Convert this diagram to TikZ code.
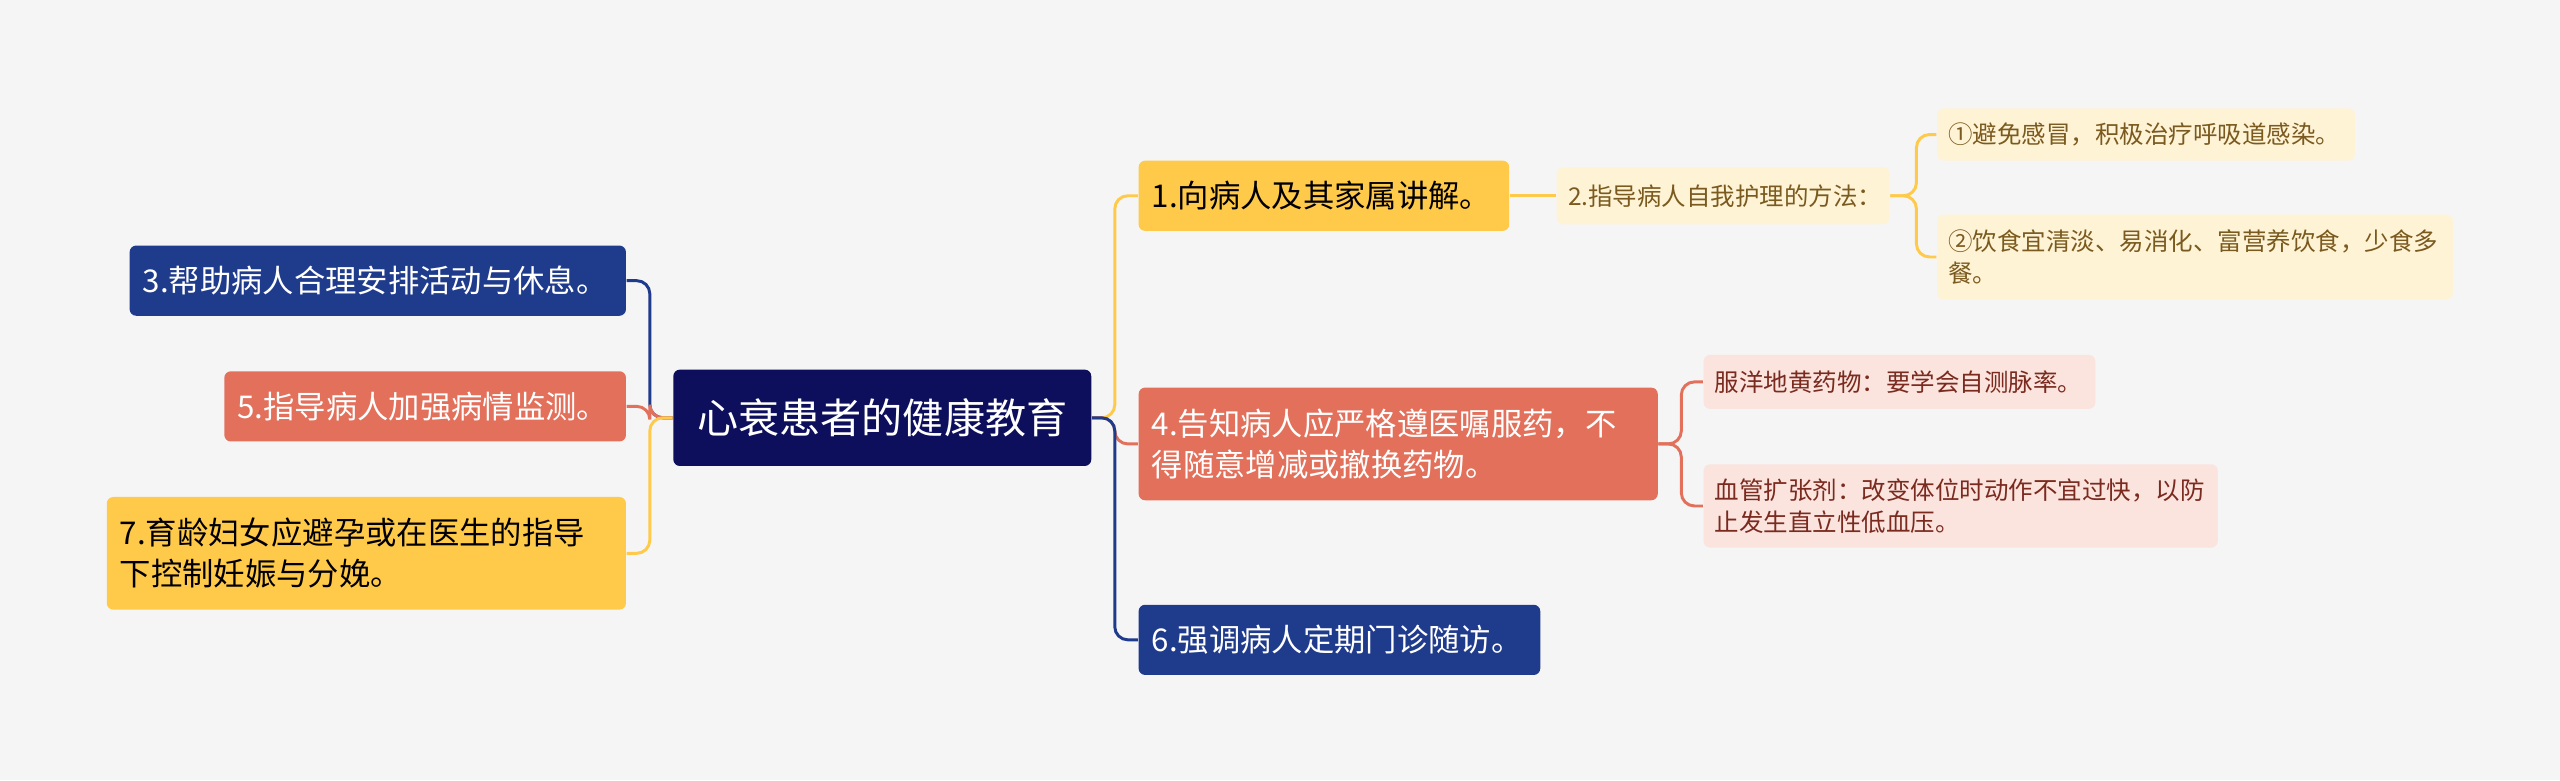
\documentclass[tikz,border=0pt]{standalone}
\usepackage{fontspec}
\setmainfont{Noto Sans CJK SC}
\definecolor{bg}{HTML}{F5F5F5}
\definecolor{navy}{HTML}{0D0F5C}
\definecolor{blue}{HTML}{1F3B8C}
\definecolor{coral}{HTML}{E2705A}
\definecolor{yel}{HTML}{FFC94A}
\definecolor{lyel}{HTML}{FFF3D6}
\definecolor{lpink}{HTML}{FBE3DE}
\definecolor{brown}{HTML}{7A5A1E}
\definecolor{dred}{HTML}{7A2A1E}
\tikzset{
  box/.style={rounded corners=2pt, anchor=north west, align=left, inner xsep=4pt, inner ysep=0pt},
  l1/.style={box, font=\fontsize{9.6}{12.5}\selectfont},
  l2/.style={box, font=\fontsize{7.5}{10}\selectfont, inner xsep=3.5pt},
  con/.style={line width=0.9pt, rounded corners=4pt},
}
\begin{document}
\begin{tikzpicture}[x=0.5pt,y=-0.5pt]
\fill[bg] (0,0) rectangle (1568,478);
\useasboundingbox (0,0) rectangle (1568,478);
% center
\node[box, align=center, fill=navy, text=white, font=\fontsize{12.6}{14}\selectfont, minimum width=128pt, minimum height=29.5pt, text width=120pt] (c) at (412,226) {心衰患者的健康教育};
% left
\node[l1, fill=blue, text=white, minimum width=152pt, minimum height=21.5pt, text width=144pt] (n3) at (79,150) {3.帮助病人合理安排活动与休息。};
\node[l1, fill=coral, text=white, minimum width=123pt, minimum height=21.5pt, text width=115pt] (n5) at (137,227) {5.指导病人加强病情监测。};
\node[l1, fill=yel, text=black, minimum width=159pt, minimum height=34.5pt, text width=151pt] (n7) at (65,304) {7.育龄妇女应避孕或在医生的指导\\下控制妊娠与分娩。};
% right
\node[l1, fill=yel, text=black, minimum width=113.5pt, minimum height=21.5pt, text width=105.5pt] (n1) at (697,98) {1.向病人及其家属讲解。};
\node[l1, fill=coral, text=white, minimum width=159pt, minimum height=34.5pt, text width=151pt] (n4) at (697,237) {4.告知病人应严格遵医嘱服药，不\\得随意增减或撤换药物。};
\node[l1, fill=blue, text=white, minimum width=123pt, minimum height=21.5pt, text width=115pt] (n6) at (697,370) {6.强调病人定期门诊随访。};
% level 2
\node[l2, fill=lyel, text=brown, minimum width=102pt, minimum height=17.5pt, text width=95pt] (n2) at (953,102) {2.指导病人自我护理的方法：};
\node[l2, fill=lyel, text=brown, minimum width=128pt, minimum height=16pt, text width=121pt] (a1) at (1186,66) {①避免感冒，积极治疗呼吸道感染。};
\node[l2, fill=lyel, text=brown, minimum width=158pt, minimum height=26pt, text width=151pt] (a2) at (1186,131) {②饮食宜清淡、易消化、富营养饮食，少食多\\餐。};
\node[l2, fill=lpink, text=dred, minimum width=120pt, minimum height=16.5pt, text width=113pt] (b1) at (1043,217) {服洋地黄药物：要学会自测脉率。};
\node[l2, fill=lpink, text=dred, minimum width=157.5pt, minimum height=25.5pt, text width=150.5pt] (b2) at (1043,284) {血管扩张剂：改变体位时动作不宜过快，以防\\止发生直立性低血压。};
% connectors
\draw[con, blue] (c.west) -- ++(-14,0) |- (n3.east);
\draw[con, coral] (c.west) -- ++(-14,0) |- (n5.east);
\draw[con, yel] (c.west) -- ++(-14,0) |- (n7.east);
\draw[con, yel] (c.east) -- ++(14,0) |- (n1.west);
\draw[con, coral] (c.east) -- ++(14,0) |- (n4.west);
\draw[con, blue] (c.east) -- ++(14,0) |- (n6.west);
\draw[con, yel] (n1.east) -- (n2.west);
\draw[con, yel] (n2.east) -- ++(16,0) |- (a1.west);
\draw[con, yel] (n2.east) -- ++(16,0) |- (a2.west);
\draw[con, coral] (n4.east) -- ++(14,0) |- (b1.west);
\draw[con, coral] (n4.east) -- ++(14,0) |- (b2.west);
\end{tikzpicture}
\end{document}
